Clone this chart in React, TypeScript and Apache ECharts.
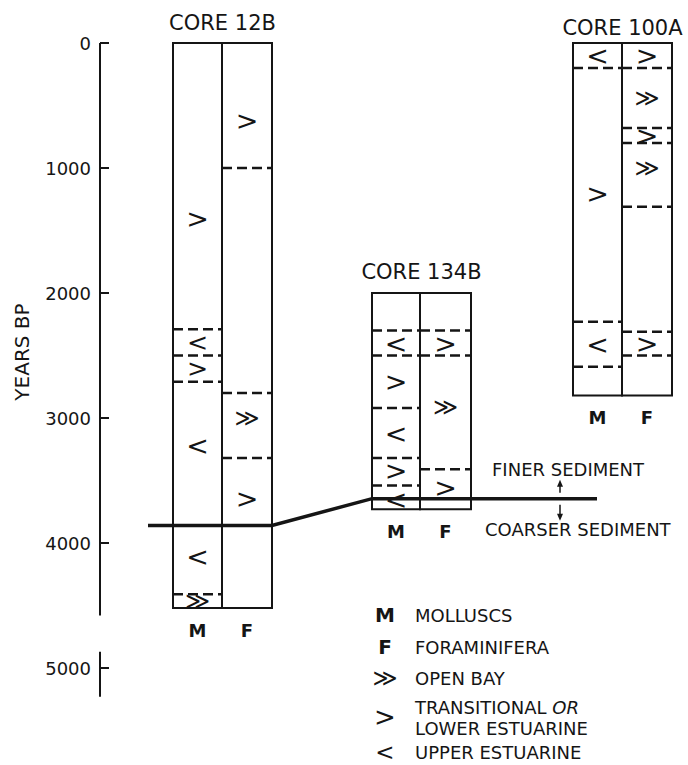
import React, { useEffect, useRef } from "react";
import * as echarts from "echarts";

// ---- data (years BP) ----
const yearTicks = [0, 1000, 2000, 3000, 4000, 5000];
const axisSegments = [
  [0, 4580],
  [4870, 5230],
];

const core12BSpan = [0, 4520];
const core12BMBreaks = [2290, 2500, 2710, 4410];
const core12BMSymbols = [">", "<", ">", "<", "<", "≫"];
const core12BMSymbolYears = [1400, 2395, 2605, 3220, 4110, 4465];
const core12BFBreaks = [1000, 2800, 3320];
const core12BFSymbols = [">", "≫", ">"];
const core12BFSymbolYears = [620, 3000, 3640];

const core134BSpan = [2000, 3730];
const core134BMBreaks = [2300, 2500, 2920, 3320, 3540];
const core134BMSymbols = ["<", ">", "<", ">", "<"];
const core134BMSymbolYears = [2400, 2710, 3120, 3420, 3650];
const core134BFBreaks = [2300, 2500, 3410];
const core134BFSymbols = [">", "≫", ">"];
const core134BFSymbolYears = [2400, 2910, 3555];

const core100ASpan = [0, 2820];
const core100AMBreaks = [200, 2230, 2590];
const core100AMSymbols = ["<", ">", "<"];
const core100AMSymbolYears = [100, 1200, 2410];
const core100AFBreaks = [200, 680, 800, 1310, 2310, 2500];
const core100AFSymbols = [">", "≫", ">", "≫", ">"];
const core100AFSymbolYears = [100, 440, 740, 1000, 2405];

const sedimentBoundaryYears = [3860, 3860, 3645, 3645];

const legendSymbols = ["M", "F", "≫", ">", "<"];
const legendLabels = ["MOLLUSCS", "FORAMINIFERA", "OPEN BAY", "TRANSITIONAL OR\nLOWER ESTUARINE", "UPPER ESTUARINE"];

// ---- layout ----
const INK = "#151515";
const FONT = '"DejaVu Sans", "Liberation Sans", sans-serif';
const GRID_LEFT = 100;
const GRID_TOP = 43;

const cores = [
  {
    name: "CORE 12B",
    xs: [73, 122, 172],
    span: core12BSpan,
    titleGap: 20,
    cols: [
      { breaks: core12BMBreaks, syms: core12BMSymbols, years: core12BMSymbolYears },
      { breaks: core12BFBreaks, syms: core12BFSymbols, years: core12BFSymbolYears },
    ],
  },
  {
    name: "CORE 134B",
    xs: [272, 320, 371],
    span: core134BSpan,
    titleGap: 21,
    cols: [
      { breaks: core134BMBreaks, syms: core134BMSymbols, years: core134BMSymbolYears },
      { breaks: core134BFBreaks, syms: core134BFSymbols, years: core134BFSymbolYears },
    ],
  },
  {
    name: "CORE 100A",
    xs: [473, 522, 572],
    span: core100ASpan,
    titleGap: 15,
    cols: [
      { breaks: core100AMBreaks, syms: core100AMSymbols, years: core100AMSymbolYears },
      { breaks: core100AFBreaks, syms: core100AFSymbols, years: core100AFSymbolYears },
    ],
  },
];

const sedimentXs = [48, 172, 272, 497];
const arrowX = 460;

function txt(text: string, x: number, y: number, font: string, align = "center") {
  return {
    type: "text",
    style: {
      text,
      x,
      y,
      font,
      fill: INK,
      align,
      textAlign: align,
      verticalAlign: "middle",
      textVerticalAlign: "middle",
    },
  };
}

function renderItem(_params: any, api: any) {
  const children: any[] = [];
  const P = (x: number, v: number) => api.coord([x, v]);

  axisSegments.forEach(([a, b]) => {
    const p1 = P(0, a);
    const p2 = P(0, b);
    children.push({
      type: "line",
      shape: { x1: p1[0], y1: p1[1], x2: p2[0], y2: p2[1] },
      style: { stroke: INK, lineWidth: 2 },
    });
  });

  cores.forEach((core) => {
    const [xl, xm, xr] = core.xs;
    const edges = [
      [xl, xm],
      [xm, xr],
    ];
    const labels = ["M", "F"];
    core.cols.forEach((col, i) => {
      const [a, b] = edges[i];
      const tl = P(a, core.span[0]);
      const br = P(b, core.span[1]);
      children.push({
        type: "rect",
        shape: { x: tl[0], y: tl[1], width: br[0] - tl[0], height: br[1] - tl[1] },
        style: { fill: "none", stroke: INK, lineWidth: 2 },
      });
      col.breaks.forEach((v) => {
        const p1 = P(a, v);
        const p2 = P(b, v);
        children.push({
          type: "line",
          shape: { x1: p1[0], y1: p1[1], x2: p2[0], y2: p2[1] },
          style: { stroke: INK, lineWidth: 2.5, lineDash: [10, 5] },
        });
      });
      const ys = col.years.map((v) => P(0, v)[1]);
      col.syms.forEach((s, j) => {
        const c = P((a + b) / 2, col.years[j]);
        let size = s === "≫" ? 24 : 27;
        // keep neighbouring symbols from crowding each other
        ys.forEach((yy, k) => {
          if (k !== j) size = Math.min(size, Math.abs(yy - ys[j]) - 1);
        });
        children.push(txt(s, c[0], c[1], `${Math.max(size, 16)}px ${FONT}`));
      });
      const lb = P((a + b) / 2, core.span[1]);
      children.push(txt(labels[i], lb[0], lb[1] + 22, `bold 18px ${FONT}`));
    });
    const t = P((xl + xr) / 2, core.span[0]);
    children.push(txt(core.name, t[0], t[1] - core.titleGap, `21px ${FONT}`));
  });

  const pts = sedimentXs.map((x, i) => P(x, sedimentBoundaryYears[i]));
  children.push({
    type: "polyline",
    shape: { points: pts },
    style: { stroke: INK, lineWidth: 3.5, fill: "none" },
  });

  const ap = P(arrowX, sedimentBoundaryYears[3]);
  const ax = ap[0];
  const ay = ap[1];
  children.push({
    type: "line",
    shape: { x1: ax, y1: ay - 6, x2: ax, y2: ay - 16 },
    style: { stroke: INK, lineWidth: 1.5 },
  });
  children.push({
    type: "polygon",
    shape: { points: [[ax, ay - 19], [ax - 3, ay - 12], [ax + 3, ay - 12]] },
    style: { fill: INK },
  });
  children.push({
    type: "line",
    shape: { x1: ax, y1: ay + 6, x2: ax, y2: ay + 19 },
    style: { stroke: INK, lineWidth: 1.5 },
  });
  children.push({
    type: "polygon",
    shape: { points: [[ax, ay + 22], [ax - 3, ay + 15], [ax + 3, ay + 15]] },
    style: { fill: INK },
  });
  children.push(txt("FINER SEDIMENT", ax - 68, ay - 29, `18px ${FONT}`, "left"));
  children.push(txt("COARSER SEDIMENT", ax - 75, ay + 31, `18px ${FONT}`, "left"));

  return { type: "group", children };
}

function legendGraphics() {
  const rows = [615, 647, 678, 717, 752];
  const els: any[] = [];
  legendSymbols.forEach((s, i) => {
    const isLetter = s === "M" || s === "F";
    els.push({
      type: "text",
      x: 385,
      y: rows[i],
      style: {
        text: s,
        font: isLetter ? `bold 20px ${FONT}` : `${s === "≫" ? 24 : i === 4 ? 23 : 26}px ${FONT}`,
        fill: INK,
        align: "center",
        textAlign: "center",
        verticalAlign: "middle",
        textVerticalAlign: "middle",
      },
    });
  });
  legendLabels.forEach((l, i) => {
    if (l.indexOf("\n") >= 0) {
      const [first, second] = l.split("\n");
      const words = first.split(" ");
      els.push({
        type: "text",
        x: 415,
        y: 707,
        style: {
          text: `{a|${words[0]} }{b|${words[1]}}`,
          rich: {
            a: { font: `18px ${FONT}`, fill: INK },
            b: { font: `italic 18px ${FONT}`, fill: INK },
          },
          fill: INK,
          font: `18px ${FONT}`,
          align: "left",
          textAlign: "left",
          verticalAlign: "middle",
          textVerticalAlign: "middle",
        },
      });
      els.push({
        type: "text",
        x: 415,
        y: 728,
        style: {
          text: second,
          font: `18px ${FONT}`,
          fill: INK,
          align: "left",
          textAlign: "left",
          verticalAlign: "middle",
          textVerticalAlign: "middle",
        },
      });
    } else {
      els.push({
        type: "text",
        x: 415,
        y: rows[i],
        style: {
          text: l,
          font: `18px ${FONT}`,
          fill: INK,
          align: "left",
          textAlign: "left",
          verticalAlign: "middle",
          textVerticalAlign: "middle",
        },
      });
    }
  });
  els.push({
    type: "text",
    x: 22,
    y: 352,
    rotation: Math.PI / 2,
    style: {
      text: "YEARS BP",
      font: `20px ${FONT}`,
      fill: INK,
      align: "center",
      textAlign: "center",
      verticalAlign: "middle",
      textVerticalAlign: "middle",
    },
  });
  return els;
}

export default function App() {
  const ref = useRef<HTMLDivElement>(null);
  useEffect(() => {
    if (!ref.current) return;
    const chart = echarts.init(ref.current, null, { renderer: "svg" });
    chart.setOption({
      animation: false,
      backgroundColor: "#ffffff",
      grid: { left: GRID_LEFT, right: 0, top: GRID_TOP, height: 655 },
      xAxis: { type: "value", min: 0, max: 588, show: false },
      yAxis: {
        type: "value",
        min: 0,
        max: 5240,
        inverse: true,
        axisLine: { show: false },
        splitLine: { show: false },
        axisTick: {
          show: true,
          inside: true,
          length: 9,
          customValues: yearTicks,
          lineStyle: { color: INK, width: 2 },
        },
        axisLabel: {
          customValues: yearTicks,
          formatter: (v: number) => String(v),
          fontSize: 18,
          fontFamily: FONT,
          color: INK,
          margin: 9,
        },
      },
      graphic: legendGraphics(),
      series: [
        {
          type: "custom",
          silent: true,
          clip: false,
          data: [[0, 0]],
          renderItem,
        },
      ],
    });
    return () => chart.dispose();
  }, []);
  return (
    <div
      ref={ref}
      style={{ position: "absolute", left: 0, top: 0, width: 688, height: 765, background: "#fff" }}
    />
  );
}
